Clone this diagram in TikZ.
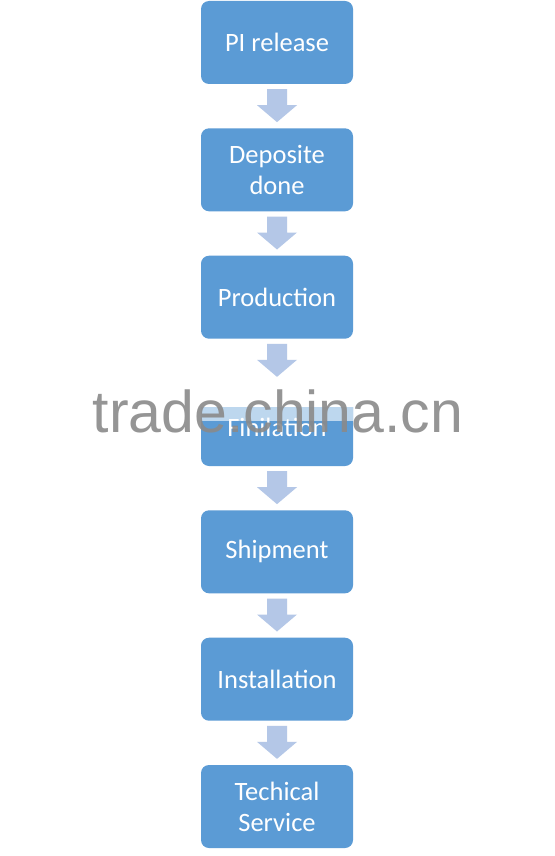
\documentclass[tikz,border=0pt]{standalone}
\usepackage{fontspec}
\setmainfont{Carlito}
\newfontfamily\wmfont{Liberation Sans}
\usetikzlibrary{calc}
\definecolor{boxblue}{HTML}{5B9BD5}
\definecolor{arrowblue}{HTML}{B4C7E7}
\definecolor{wmgray}{HTML}{8A8A8A}
\begin{document}
\begin{tikzpicture}[x=1pt,y=-1pt,
  stepbox/.style={fill=boxblue, rounded corners=8pt, minimum width=152pt,
    minimum height=83pt, text=white, font=\fontsize{26.5}{31}\selectfont,
    align=center, inner sep=0pt},
  flowarrow/.pic={\fill[arrowblue] (-10,-17) -- (10,-17) -- (10,-1) -- (20,-1)
    -- (0,16) -- (-20,-1) -- (-10,-1) -- cycle;}]
\useasboundingbox (0,0) rectangle (554,856);
\fill[white] (0,0) rectangle (554,856);
\node[stepbox] (s1) at (277,42.5) {PI release};
\node[stepbox] (s2) at (277,169.8) {Deposite\\done};
\node[stepbox] (s3) at (277,297.2) {Production};
\node[stepbox] (s4) at (277,424.5) {\raisebox{-12pt}[0pt][0pt]{Finilation}};
\node[stepbox] (s5) at (277,551.8) {Shipment};
\node[stepbox] (s6) at (277,679.2) {Installation};
\node[stepbox] (s7) at (277,806.5) {Techical\\Service};
\foreach \a/\b in {s1/s2,s2/s3,s3/s4,s4/s5,s5/s6,s6/s7}{
  \coordinate (m) at ($(\a.south)!0.5!(\b.north)$);
  \pic at (m) {flowarrow};
}
\fill[white] ([xshift=-1pt,yshift=1pt]s4.north west) rectangle ([xshift=1pt,yshift=-24pt]s4.north east);
\fill[white, opacity=0.6] ([yshift=-24pt]s4.north west) rectangle ([yshift=-38pt]s4.north east);
\node[font=\wmfont\fontsize{59}{59}\selectfont, text=wmgray, text opacity=0.9,
  anchor=base, inner sep=0pt] (wm) at (278,432) {trade.china.cn};
\end{tikzpicture}
\end{document}
